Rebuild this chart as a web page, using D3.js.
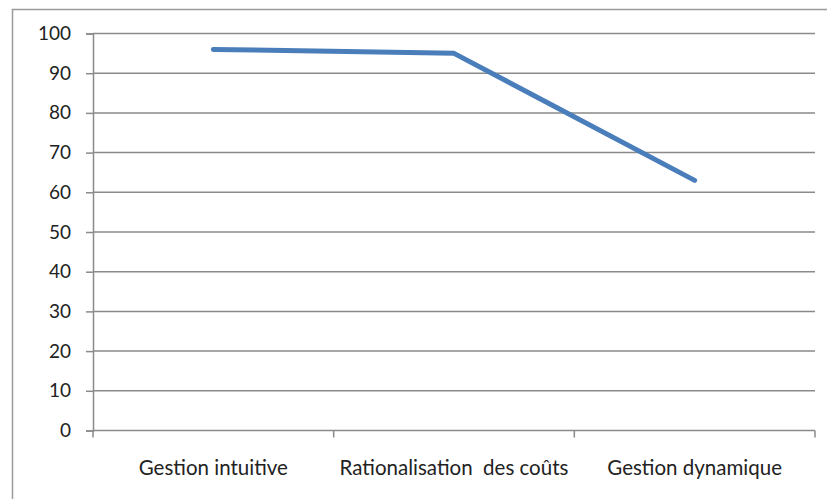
<!DOCTYPE html>
<html>
<head>
<meta charset="utf-8">
<script src="https://cdn.jsdelivr.net/npm/d3@7"></script>
<style>
  html, body { margin: 0; padding: 0; background: #fff; }
  svg { display: block; }
</style>
</head>
<body>
<svg id="chart" width="827" height="499"></svg>
<script>
// Series data
const categories = ["Gestion intuitive", "Rationalisation  des coûts", "Gestion dynamique"];
const values = [96, 95, 63];
const yTicks = [0, 10, 20, 30, 40, 50, 60, 70, 80, 90, 100];

const W = 827, H = 499;
const plot = { left: 93, right: 815, top: 33.5, bottom: 430.5 };
const font = "Lato, 'Open Sans', sans-serif";

const svg = d3.select("#chart");

// Outer chart frame (extends past the right and bottom edges)
svg.append("rect")
  .attr("x", 12.5).attr("y", 9.5)
  .attr("width", W + 20).attr("height", H + 20)
  .attr("fill", "none")
  .attr("stroke", "#9a9a9a")
  .attr("stroke-width", 1.5);

const x = d3.scaleBand()
  .domain(categories)
  .range([plot.left, plot.right])
  .paddingInner(0).paddingOuter(0);

const y = d3.scaleLinear()
  .domain([0, 100])
  .range([plot.bottom, plot.top]);

// Horizontal gridlines
svg.append("g")
  .selectAll("line")
  .data(yTicks.filter(d => d > 0))
  .join("line")
  .attr("x1", plot.left).attr("x2", plot.right)
  .attr("y1", d => y(d)).attr("y2", d => y(d))
  .attr("stroke", "#8a8a8a")
  .attr("stroke-width", 1.5);

// Y axis
const yAxis = svg.append("g")
  .attr("transform", `translate(${plot.left},0)`)
  .call(d3.axisLeft(y).tickValues(yTicks).tickSize(7).tickPadding(15));
yAxis.select(".domain").attr("stroke", "#8a8a8a").attr("stroke-width", 1.5);
yAxis.selectAll(".tick line").attr("stroke", "#8a8a8a").attr("stroke-width", 1.5);
yAxis.selectAll(".tick text")
  .attr("font-family", font)
  .attr("font-size", 19)
  .attr("fill", "#222");

// X axis with tick marks at band boundaries
const xAxis = svg.append("g")
  .attr("transform", `translate(0,${plot.bottom})`);
xAxis.append("line")
  .attr("x1", plot.left).attr("x2", plot.right)
  .attr("y1", 0).attr("y2", 0)
  .attr("stroke", "#8a8a8a").attr("stroke-width", 1.5);
const boundaries = categories.map(c => x(c)).concat([x(categories[categories.length - 1]) + x.bandwidth()]);
xAxis.selectAll("line.tk")
  .data(boundaries)
  .join("line")
  .attr("class", "tk")
  .attr("x1", d => d).attr("x2", d => d)
  .attr("y1", 0).attr("y2", 7)
  .attr("stroke", "#8a8a8a").attr("stroke-width", 1.5);
xAxis.selectAll("text")
  .data(categories)
  .join("text")
  .attr("x", d => x(d) + x.bandwidth() / 2)
  .attr("y", 44)
  .attr("text-anchor", "middle")
  .attr("font-family", font)
  .attr("font-size", 20.5)
  .attr("fill", "#222")
  .style("white-space", "pre")
  .text(d => d);

// Data line
const line = d3.line()
  .x((d, i) => x(categories[i]) + x.bandwidth() / 2)
  .y(d => y(d));

svg.append("path")
  .datum(values)
  .attr("d", line)
  .attr("fill", "none")
  .attr("stroke", "#4a7ebb")
  .attr("stroke-width", 5)
  .attr("stroke-linecap", "round")
  .attr("stroke-linejoin", "round");
</script>
</body>
</html>
